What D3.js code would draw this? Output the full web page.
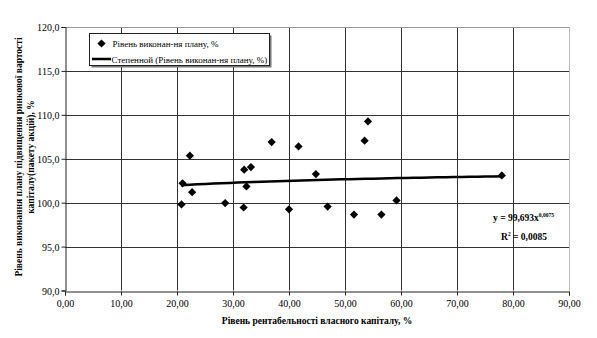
<!DOCTYPE html>
<html><head><meta charset="utf-8">
<script src="https://cdn.jsdelivr.net/npm/d3@7"></script>
<style>body{margin:0;background:#fff}svg{display:block}</style>
</head><body>
<svg id="c" width="597" height="338" font-family="Liberation Serif"></svg>
<script>
const xValues = [20.8, 21.0, 22.3, 22.7, 28.6, 31.9, 32.0, 32.4, 33.2, 36.9, 41.7, 40.0, 44.8, 46.9, 54.1, 53.5, 51.6, 56.5, 59.2, 78.0];
const yValues = [99.8, 102.2, 105.35, 101.2, 99.95, 99.45, 103.75, 101.85, 104.05, 106.9, 106.4, 99.25, 103.25, 99.55, 109.25, 107.05, 98.65, 98.65, 100.25, 103.1];
const trendCoef = [99.693, 0.0075];
const xTicks = [0,10,20,30,40,50,60,70,80,90];
const yTicks = [90,95,100,105,110,115,120];
const seriesName = "Рівень виконан-ня плану, %";
const trendName = "Степенной (Рівень виконан-ня плану, %)";
const xTitle = "Рівень рентабельності власного капіталу, %";
const yTitle = ["Рівень виконання плану підвищення ринкової вартості", "капіталу(пакету акцій), %"];
const eqText = ["y = 99,693x", "0,0075", "R", "2", " = 0,0085"];

const FONT = "Liberation Serif";
const W=597,H=338, L=65, R=569, T=27, B=290.5;
const svg=d3.select("#c");
const x=d3.scaleLinear().domain([0,90]).range([L,R]);
const y=d3.scaleLinear().domain([90,120]).range([B,T]);
const fmt=(d,n)=>d.toFixed(n).replace(".",",");
const txt=(sel)=>sel.attr("font-family",FONT).attr("fill","#000");

// grid
svg.append("g").selectAll("line").data(xTicks.slice(1,-1)).join("line")
 .attr("x1",d=>Math.round(x(d))+0.5).attr("x2",d=>Math.round(x(d))+0.5).attr("y1",T).attr("y2",B).attr("stroke","#333");
svg.append("g").selectAll("line").data(yTicks.slice(1,-1)).join("line")
 .attr("y1",d=>Math.round(y(d))+0.5).attr("y2",d=>Math.round(y(d))+0.5).attr("x1",L).attr("x2",R).attr("stroke","#333");
// border top/right
svg.append("line").attr("x1",L).attr("x2",R).attr("y1",Math.round(T)+0.5).attr("y2",Math.round(T)+0.5).attr("stroke","#999");
svg.append("line").attr("x1",R+0.5).attr("x2",R+0.5).attr("y1",T).attr("y2",B).attr("stroke","#bbb");

// axes
const ya=svg.append("g").attr("transform",`translate(${L+0.5},0)`).call(d3.axisLeft(y).tickValues(yTicks).tickSize(4).tickFormat(d=>fmt(d,1)));
const xa=svg.append("g").attr("transform",`translate(0,${Math.round(B)+0.5})`).call(d3.axisBottom(x).tickValues(xTicks).tickSize(4).tickFormat(d=>fmt(d,2)));
[ya,xa].forEach(g=>{g.attr("font-family",FONT).attr("font-size",10);g.select(".domain").attr("stroke","#222");g.selectAll(".tick line").attr("stroke","#222");
 g.selectAll("text").call(txt);});
ya.selectAll("text").attr("x",-6).attr("dy","0.35em");
xa.selectAll("text").attr("y",8);

// trend
const tx=d3.range(d3.min(xValues),d3.max(xValues)+0.01,(d3.max(xValues)-d3.min(xValues))/40);
const line=d3.line().x(d=>x(d)).y(d=>y(trendCoef[0]*Math.pow(d,trendCoef[1])));
svg.append("path").attr("d",line(tx)).attr("fill","none").attr("stroke","#000").attr("stroke-width",2.5);

// points
const diamond=d3.symbol().type(d3.symbolSquare).size(34);
svg.append("g").selectAll("path").data(xValues.map((v,i)=>[v,yValues[i]])).join("path")
 .attr("d",diamond).attr("transform",d=>`translate(${x(d[0])},${y(d[1])}) rotate(45)`).attr("fill","#000");

// legend
const lg=svg.append("g");
lg.append("rect").attr("x",91.5).attr("y",35.5).attr("width",180).attr("height",32).attr("fill","#777");
lg.append("rect").attr("x",89.5).attr("y",33.5).attr("width",180).attr("height",32).attr("fill","#fff").attr("stroke","#222");
lg.append("path").attr("d",diamond).attr("transform","translate(101.5,43.5) rotate(45)").attr("fill","#000");
lg.append("text").attr("x",112.5).attr("y",47).attr("font-size",9).call(txt).text(seriesName);
lg.append("line").attr("x1",92).attr("x2",111).attr("y1",59).attr("y2",59).attr("stroke","#000").attr("stroke-width",2.5);
lg.append("text").attr("x",111.5).attr("y",62.5).attr("font-size",9).call(txt).text(trendName);

// equation
const eq=svg.append("text").attr("x",493).attr("y",221).attr("font-size",9.5).attr("font-weight","bold").call(txt);
eq.append("tspan").text(eqText[0]);
eq.append("tspan").attr("dy",-4).attr("font-size",5.5).text(eqText[1]);
const r2=svg.append("text").attr("x",501).attr("y",240).attr("font-size",9.5).attr("font-weight","bold").call(txt);
r2.append("tspan").text(eqText[2]);
r2.append("tspan").attr("dy",-4).attr("font-size",5.5).text(eqText[3]);
r2.append("tspan").attr("dy",4).text(eqText[4]);

// titles
svg.append("text").attr("x",(L+R)/2).attr("y",324).attr("text-anchor","middle").attr("font-size",9.5).attr("font-weight","bold").call(txt).text(xTitle);
const yt=svg.append("text").attr("transform","translate(22,157) rotate(-90)").attr("text-anchor","middle").attr("font-size",9.5).attr("font-weight","bold").call(txt);
yt.append("tspan").attr("x",0).attr("y",0).text(yTitle[0]);
yt.append("tspan").attr("x",0).attr("y",12).text(yTitle[1]);
</script>
</body></html>
